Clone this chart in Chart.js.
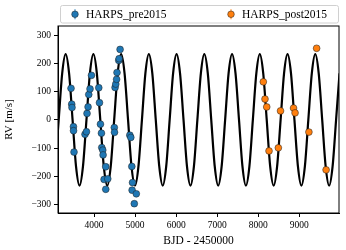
<!DOCTYPE html>
<html>
<head>
<meta charset="utf-8">
<script src="https://cdn.jsdelivr.net/npm/chart.js@4.4.1/dist/chart.umd.min.js"></script>
<style>
  html, body { margin: 0; padding: 0; background: #fff; }
</style>
</head>
<body>
<canvas id="rv" width="346" height="250"></canvas>
<script>
// HARPS radial velocities (BJD - 2450000, m/s)
const preT = [3439, 3456, 3463, 3498, 3500, 3512, 3780, 3815, 3829, 3854, 3871, 3902, 3937,
  4115, 4132, 4156, 4180, 4188, 4212, 4220, 4285, 4244, 4334, 4285,
  4493, 4498, 4512, 4529, 4549, 4559, 4602, 4610, 4634,
  4871, 4895, 4920, 4937, 4927, 5029, 4980];
const preRV = [112, 56, 44, -24, -38, -114, -51, -42, 23, 46, 90, 110, 158,
  114, 61, -15, -47, -98, -107, -124, -166, -211, -209, -246,
  -27, -44, 115, 127, 144, 168, 211, 217, 250,
  -54, -62, -165, -222, -249, -262, -297];

const postT = [8122, 8163, 8205, 8261, 8488, 8541, 8858, 8895, 9232, 9420, 9651];
const postRV = [135, 74, 46, -110, -99, 32, 42, 25, -43, 254, -177];

// model curve (peaks, troughs, crossings and in-between)
const curveT = [3055, 3139, 3224, 3308, 3392, 3477, 3561, 3646, 3730, 3815, 3899, 3984,
  4068, 4152, 4237, 4321, 4406, 4490, 4575, 4659, 4743, 4828, 4912, 4997,
  5081, 5166, 5250, 5334, 5419, 5503, 5588, 5672, 5757, 5841, 5925, 6010,
  6094, 6179, 6263, 6348, 6432, 6516, 6601, 6685, 6770, 6854, 6939, 7023,
  7107, 7192, 7276, 7361, 7445, 7530, 7614, 7698, 7783, 7867, 7952, 8036,
  8120, 8205, 8289, 8374, 8458, 8543, 8627, 8712, 8796, 8880, 8965, 9049,
  9134, 9218, 9303, 9387, 9471, 9556, 9640, 9725, 9809, 9894, 9978];
const curveRV = [-165, 0, 165, 233, 165, 0, -165, -233, -165, 0, 165, 233,
  165, 0, -165, -233, -165, 0, 165, 233, 165, 0, -165, -233,
  -165, 0, 165, 233, 165, 0, -165, -233, -165, 0, 165, 233,
  165, 0, -165, -233, -165, 0, 165, 233, 165, 0, -165, -233,
  -165, 0, 165, 233, 165, 0, -165, -233, -165, 0, 165, 233,
  165, 0, -165, -233, -165, 0, 165, 233, 165, 0, -165, -233,
  -165, 0, 165, 233, 165, 0, -165, -233, -165, 0, 165];

const xTicks = [4000, 5000, 6000, 7000, 8000, 9000];
const yTicks = [-300, -200, -100, 0, 100, 200, 300];

const seriesNames = ['HARPS_pre2015', 'HARPS_post2015'];
const seriesColors = ['#1f77b4', '#ff7f0e'];

const toXY = (xs, ys) => xs.map((x, i) => ({x: x, y: ys[i]}));
const fmt = v => v < 0 ? '\u2212' + Math.abs(v) : String(v);

const serif = '"Liberation Serif", "DejaVu Serif", serif';

// frame around the plot area + matplotlib-like legend box
const framePlugin = {
  id: 'frame',
  afterDatasetsDraw(chart) {
    const {ctx, chartArea: a} = chart;
    ctx.save();
    ctx.strokeStyle = '#000';
    ctx.lineWidth = 1;
    ctx.strokeRect(a.left, a.top, a.right - a.left, a.bottom - a.top);
    ctx.restore();
  },
  afterDraw(chart) {
    const {ctx, chartArea: a} = chart;
    const bx = a.left + 2, by = 5, bw = a.right - a.left - 2, bh = 17.5;
    ctx.save();
    ctx.fillStyle = 'rgba(255,255,255,0.8)';
    ctx.strokeStyle = '#d0d0d0';
    ctx.lineWidth = 1;
    ctx.beginPath();
    ctx.roundRect(bx + 0.5, by + 0.5, bw - 1, bh, 2);
    ctx.fill();
    ctx.stroke();
    ctx.font = '11.5px ' + serif;
    ctx.textBaseline = 'middle';
    const cy = by + bh / 2 + 0.5;
    const itemX = [bx + 15, bx + 171];
    seriesNames.forEach((name, i) => {
      const mx = itemX[i];
      ctx.strokeStyle = seriesColors[i];
      ctx.lineWidth = 1;
      ctx.beginPath();
      ctx.moveTo(mx, cy - 5);
      ctx.lineTo(mx, cy + 5);
      ctx.stroke();
      ctx.beginPath();
      ctx.arc(mx, cy, 3.3, 0, Math.PI * 2);
      ctx.fillStyle = seriesColors[i];
      ctx.fill();
      ctx.strokeStyle = 'rgba(30,30,30,0.85)';
      ctx.lineWidth = 0.6;
      ctx.stroke();
      ctx.fillStyle = '#000';
      ctx.fillText(name, mx + 11, cy + 0.5);
    });
    ctx.restore();
  }
};

const axisCommon = {
  type: 'linear',
  grid: {drawOnChartArea: false, drawTicks: true, tickLength: 4, color: '#000', lineWidth: 1},
  border: {display: true, color: '#000', width: 1},
  ticks: {color: '#000', font: {family: serif, size: 9.5}, callback: fmt}
};

new Chart(document.getElementById('rv'), {
  type: 'scatter',
  data: {
    datasets: [
      {
        type: 'line',
        label: 'model',
        data: toXY(curveT, curveRV),
        borderColor: '#000',
        borderWidth: 2.2,
        pointRadius: 0,
        fill: false,
        cubicInterpolationMode: 'monotone',
        order: 3
      },
      {
        label: seriesNames[0],
        data: toXY(preT, preRV),
        backgroundColor: seriesColors[0],
        borderColor: 'rgba(30,30,30,0.85)',
        borderWidth: 0.6,
        pointRadius: 3.4,
        order: 2
      },
      {
        label: seriesNames[1],
        data: toXY(postT, postRV),
        backgroundColor: seriesColors[1],
        borderColor: 'rgba(30,30,30,0.85)',
        borderWidth: 0.6,
        pointRadius: 3.4,
        order: 1
      }
    ]
  },
  options: {
    responsive: false,
    animation: false,
    layout: {padding: {left: 0, right: 7, top: 26, bottom: 0}},
    plugins: {legend: {display: false}, tooltip: {enabled: false}},
    scales: {
      x: {
        ...axisCommon,
        min: 3122,
        max: 9965,
        afterBuildTicks: s => { s.ticks = xTicks.map(v => ({value: v})); },
        afterFit: s => { s.height = 37; },
        ticks: {...axisCommon.ticks, padding: 3, maxRotation: 0},
        title: {display: true, text: 'BJD - 2450000', color: '#000', font: {family: serif, size: 11.5}, padding: {top: 0, bottom: 2}}
      },
      y: {
        ...axisCommon,
        min: -330,
        max: 333,
        afterBuildTicks: s => { s.ticks = yTicks.map(v => ({value: v})); },
        afterFit: s => { s.width = 58; },
        ticks: {...axisCommon.ticks, padding: 3},
        title: {display: true, text: 'RV [m/s]', color: '#000', font: {family: serif, size: 11}, padding: {top: 3, bottom: 0}}
      }
    }
  },
  plugins: [framePlugin]
});
</script>
</body>
</html>
